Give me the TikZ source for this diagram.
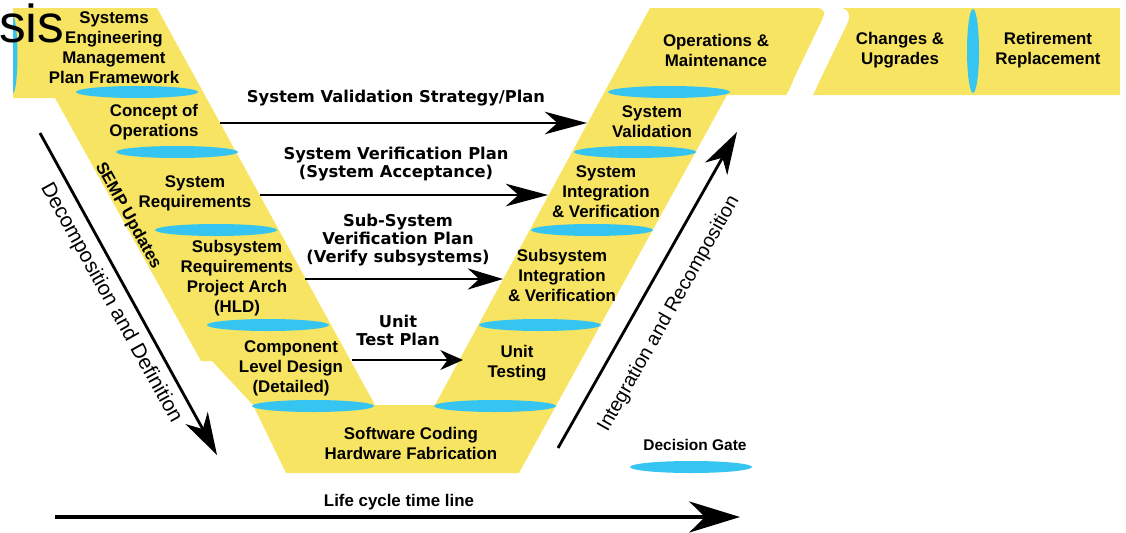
\documentclass[tikz,border=0pt]{standalone}
\usepackage{fontspec}
\setmainfont{Liberation Sans}
\newfontfamily\planfont{DejaVu Sans}
\usepackage{xcolor}
\usetikzlibrary{arrows.meta, positioning, shapes}

\definecolor{vyellow}{HTML}{F7E463}
\definecolor{gateblue}{HTML}{36C5F0}

\begin{document}
\begin{tikzpicture}[x=0.025cm, y=-0.025cm, >=Stealth,
  phase/.style={fill=vyellow},
  gate/.style={ellipse, fill=gateblue, inner sep=0pt, minimum width=3.05cm, minimum height=0.3cm},
  vgate/.style={ellipse, fill=gateblue, inner sep=0pt, minimum width=0.3cm, minimum height=2.1cm},
  box/.style={align=center, font=\bfseries\fontsize{12}{14.2}\selectfont},
  plan/.style={align=center, font=\planfont\bfseries\fontsize{11.6}{12.9}\selectfont},
  planarrow/.style={line width=2pt, -{Stealth[length=30pt, width=16pt, inset=9pt]}},
  bigarrow/.style={line width=2pt, -{Stealth[length=30pt, width=18pt, inset=9pt]}},
  sidelabel/.style={font=\fontsize{14}{16}\selectfont}
]
  \useasboundingbox (0,0) rectangle (1126,533);

  % ======= V shape =======
  \fill[phase] (13,8) -- (157,8) -- (375,405) -- (435,405) -- (650,8) -- (816,8)
    .. controls (826,8) and (825,14) .. (822,20) -- (797,72)
    .. controls (792,82) and (790,90) .. (786,95) -- (727,95) -- (519,473) -- (286,473)
    -- (253,405) -- (212,361) -- (201,361) -- (55,98) -- (13,98) -- cycle;
  \fill[phase] (840,8) .. controls (848,8) and (851,14) .. (848,22) -- (821,78)
    .. controls (817,86) and (815,92) .. (813,95) -- (1120,95) -- (1120,8) -- cycle;

  % half gate on the left edge
  \begin{scope}
    \clip (13,0) rectangle (40,110);
    \fill[gateblue] (13,55) ellipse [x radius=4.5, y radius=38];
  \end{scope}

  % decision gates, left arm
  \node[gate] (gl1) at (137,92)  {};
  \node[gate] (gl2) at (177,152) {};
  \node[gate] (gl3) at (216,230) {};
  \node[gate] (gl4) at (268,325) {};
  \node[gate] (gl5) at (313,406) {};
  % decision gates, right arm
  \node[gate] (gr5) at (495,406) {};
  \node[gate] (gr4) at (540,325) {};
  \node[gate] (gr3) at (592,230) {};
  \node[gate] (gr2) at (635,152) {};
  \node[gate] (gr1) at (669,92)  {};
  \node[vgate] (gtop) at (973,51) {};

  % ======= phases =======
  \node[box] (semp)    at (114,48)  {Systems\\Engineering\\Management\\Plan Framework};
  \node[box] (conops)  at (154,122) {Concept of\\Operations};
  \node[box] (sysreq)  at (195,193) {System\\Requirements};
  \node[box] (subreq)  at (237,278) {Subsystem\\Requirements\\Project Arch\\(HLD)};
  \node[box] (compdes) at (291,368) {Component\\Level Design\\(Detailed)};
  \node[box] (coding)  at (411,443) {Software Coding\\Hardware Fabrication};
  \node[box] (unit)    at (517,363) {Unit\\Testing};
  \node[box] (subint)  at (562,275) {Subsystem\\Integration\\\& Verification};
  \node[box] (sysint)  at (606,192) {System\\Integration\\\& Verification};
  \node[box] (sysval)  at (652,122) {System\\Validation};
  \node[box] (ops)     at (716,50)  {Operations \&\\Maintenance};
  \node[box] (changes) at (900,50)  {Changes \&\\Upgrades};
  \node[box] (retire)  at (1048,50) {Retirement\\Replacement};

  % ======= plans between the arms =======
  \coordinate (val-s)  at (220,123);  \coordinate (val-e)  at (587,123);
  \coordinate (ver-s)  at (260,195);  \coordinate (ver-e)  at (548,195);
  \coordinate (sub-s)  at (305,279);  \coordinate (sub-e)  at (503,279);
  \coordinate (ut-s)   at (352,360);  \coordinate (ut-e)   at (463,360);
  \draw[planarrow] (val-s) -- (val-e);
  \draw[planarrow] (ver-s) -- (ver-e);
  \draw[planarrow, -{Stealth[length=25pt, width=15pt, inset=8pt]}] (sub-s) -- (sub-e);
  \draw[planarrow, -{Stealth[length=16pt, width=14pt, inset=5pt]}] (ut-s) -- (ut-e);
  \node[plan] (valplan) at (396,98)  {System Validation Strategy/Plan};
  \node[plan] (verplan) at (396,164) {System Verification Plan\\(System Acceptance)};
  \node[plan] (subplan) at (398,240) {Sub-System\\Verification Plan\\(Verify subsystems)};
  \node[plan] (utplan)  at (398,330) {Unit\\Test Plan};

  % ======= side arrows =======
  \coordinate (dec-s) at (40,133);   \coordinate (dec-e) at (217,455);
  \coordinate (int-s) at (558,448);  \coordinate (int-e) at (737,132);
  \draw[bigarrow] (dec-s) -- (dec-e);
  \draw[bigarrow] (int-s) -- (int-e);
  \node[sidelabel, font=\fontsize{14.8}{16}\selectfont, rotate=-61] (decomp) at (111,303) {Decomposition and Definition};
  \node[sidelabel, rotate=60.5] (recomp) at (669,314) {Integration and Recomposition};
  \node[box, rotate=-61] (sempupd) at (128,216) {SEMP Updates};

  % ======= legend and time line =======
  \node[box, font=\bfseries\fontsize{11}{13}\selectfont] (gatelbl) at (695,445) {Decision Gate};
  \node[gate] (gatekey) at (691,467) {};
  \coordinate (life-s) at (55,517);  \coordinate (life-e) at (740,517);
  \draw[line width=3pt, -{Stealth[length=36pt, width=22pt, inset=11pt]}] (life-s) -- (life-e);
  \node[box] (lifelbl) at (399,502) {Life cycle time line};

  \node[anchor=base west, inner sep=0pt, font=\fontsize{38}{40}\selectfont] (sis) at (-1,42) {sis};
\end{tikzpicture}
\end{document}
